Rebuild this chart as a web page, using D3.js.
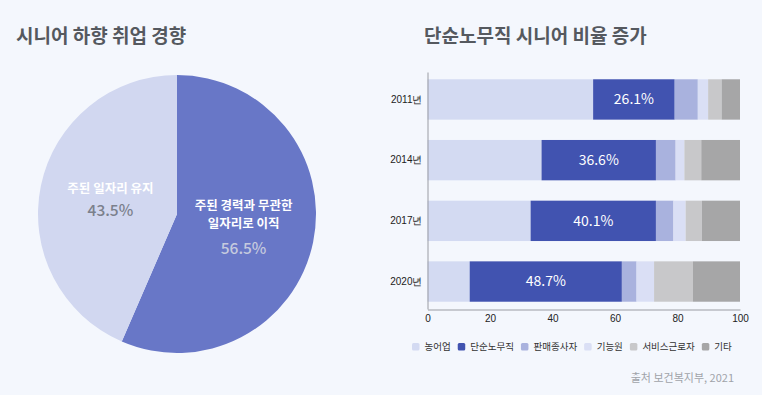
<!DOCTYPE html>
<html>
<head>
<meta charset="utf-8">
<script src="https://cdn.jsdelivr.net/npm/d3@7"></script>
<style>
    body { margin: 0; background: #f4f7fd; }
    svg { display: block; font-family: "Noto Sans CJK KR", "Noto Sans", sans-serif; }
</style>
</head>
<body>
<div id="chart"></div>
<script>
// 파이 데이터
const pieNames = [['주된 경력과 무관한', '일자리로 이직'], ['주된 일자리 유지']];
const pieValues = [56.5, 43.5];

// 막대 데이터
const years = ['2011년', '2014년', '2017년', '2020년'];
const categories = ['농어업', '단순노무직', '판매종사자', '기능원', '서비스근로자', '기타'];
const farm = [53.0, 36.5, 33.0, 13.5];
const labor = [26.1, 36.6, 40.1, 48.7];
const sales = [7.4, 6.3, 5.6, 4.7];
const craft = [3.3, 2.8, 3.9, 5.6];
const service = [4.3, 5.4, 5.2, 12.4];
const other = [5.9, 12.4, 12.2, 15.1];
const xTicks = [0, 20, 40, 60, 80, 100];

const width = 762;
const height = 395;

const svg = d3.select('#chart')
    .append('svg')
    .attr('width', width)
    .attr('height', height);

svg.append('rect').attr('width', width).attr('height', height).attr('fill', '#f4f7fd');

// 제목
svg.append('text')
    .attr('x', 16).attr('y', 43)
    .attr('font-size', 19).attr('font-weight', 700)
    .attr('fill', '#55595f')
    .text('시니어 하향 취업 경향');

svg.append('text')
    .attr('x', 424).attr('y', 43)
    .attr('font-size', 19).attr('font-weight', 700)
    .attr('fill', '#55595f')
    .text('단순노무직 시니어 비율 증가');

// ---- 파이 차트
const radius = 139;
const pieG = svg.append('g').attr('transform', 'translate(177,214)');

const pie = d3.pie().sort(null).value(d => d)(pieValues);
const arc = d3.arc().innerRadius(0).outerRadius(radius);
const labelArc = d3.arc().innerRadius(68).outerRadius(68);
const pieColor = ['#6877c7', '#d1d7f0'];

pieG.selectAll('path')
    .data(pie)
    .join('path')
    .attr('d', arc)
    .attr('fill', (d, i) => pieColor[i]);

pie.forEach((d, i) => {
    const [cx, cy] = labelArc.centroid(d);
    const lines = pieNames[i];
    const g = pieG.append('g').attr('text-anchor', 'middle');
    const nameStart = lines.length === 2 ? cy - 22 : cy - 11.5;
    lines.forEach((t, j) => {
        g.append('text')
            .attr('x', cx).attr('y', nameStart + j * 17.5)
            .attr('dy', '0.35em')
            .attr('font-size', 12.5).attr('font-weight', 700)
            .attr('fill', '#ffffff')
            .text(t);
    });
    g.append('text')
        .attr('x', cx).attr('y', lines.length === 2 ? cy + 21 : cy + 10.5)
        .attr('dy', '0.35em')
        .attr('font-size', 15.5).attr('font-weight', 500)
        .attr('fill', i === 0 ? '#c5cade' : '#7b808c')
        .text(pieValues[i] + '%');
});

// ---- 누적 막대 차트
const rows = years.map((y, i) => ({
    year: y,
    '농어업': farm[i],
    '단순노무직': labor[i],
    '판매종사자': sales[i],
    '기능원': craft[i],
    '서비스근로자': service[i],
    '기타': other[i]
}));

const x = d3.scaleLinear().domain([0, 100]).range([427.5, 740]);
const y = d3.scaleBand().domain(years).range([72, 309]).paddingInner(0.335).paddingOuter(0.12);

const barColor = d3.scaleOrdinal()
    .domain(categories)
    .range(['#d3daf2', '#4153b0', '#a9b2de', '#dadff5', '#c8c8ca', '#a6a6a7']);

const series = d3.stack().keys(categories)(rows);

svg.append('g')
    .selectAll('g')
    .data(series)
    .join('g')
    .attr('fill', d => barColor(d.key))
    .selectAll('rect')
    .data(d => d)
    .join('rect')
    .attr('x', d => x(d[0]))
    .attr('y', d => y(d.data.year))
    .attr('width', d => x(d[1]) - x(d[0]))
    .attr('height', y.bandwidth());

// 단순노무직 비율 라벨
svg.append('g')
    .selectAll('text')
    .data(series[1])
    .join('text')
    .attr('x', d => (x(d[0]) + x(d[1])) / 2)
    .attr('y', d => y(d.data.year) + y.bandwidth() / 2)
    .attr('dy', '0.35em')
    .attr('text-anchor', 'middle')
    .attr('font-size', 14).attr('font-weight', 400)
    .attr('fill', '#ffffff')
    .text(d => d.data['단순노무직'] + '%');

const yAxis = svg.append('g')
    .attr('transform', `translate(${x(0)},0)`)
    .call(d3.axisLeft(y).tickSize(0).tickPadding(5));
yAxis.select('.domain').attr('stroke', '#9a9ca3');
yAxis.selectAll('text').attr('font-size', 10).attr('fill', '#222').attr('font-family', null);

const xAxis = svg.append('g')
    .attr('transform', 'translate(0,309.5)')
    .call(d3.axisBottom(x).tickValues(xTicks).tickSize(0).tickPadding(5).tickSizeOuter(0));
xAxis.select('.domain').attr('stroke', '#9a9ca3');
xAxis.selectAll('text').attr('font-size', 10).attr('fill', '#222').attr('font-family', null);

// 범례
const legend = svg.append('g').attr('font-size', 9.5);
let lx = 412;
categories.forEach(c => {
    legend.append('rect')
        .attr('x', lx).attr('y', 343)
        .attr('width', 7.5).attr('height', 7.5).attr('rx', 1.5)
        .attr('fill', barColor(c));
    const t = legend.append('text')
        .attr('x', lx + 12.5).attr('y', 347)
        .attr('dy', '0.35em')
        .attr('fill', '#333')
        .text(c);
    lx += 12.5 + t.node().getComputedTextLength() + 7;
});

// 출처
svg.append('text')
    .attr('x', 734).attr('y', 378)
    .attr('dy', '0.35em')
    .attr('text-anchor', 'end')
    .attr('font-size', 11)
    .attr('fill', '#a0a3a9')
    .text('출처 보건복지부, 2021');
</script>
</body>
</html>
